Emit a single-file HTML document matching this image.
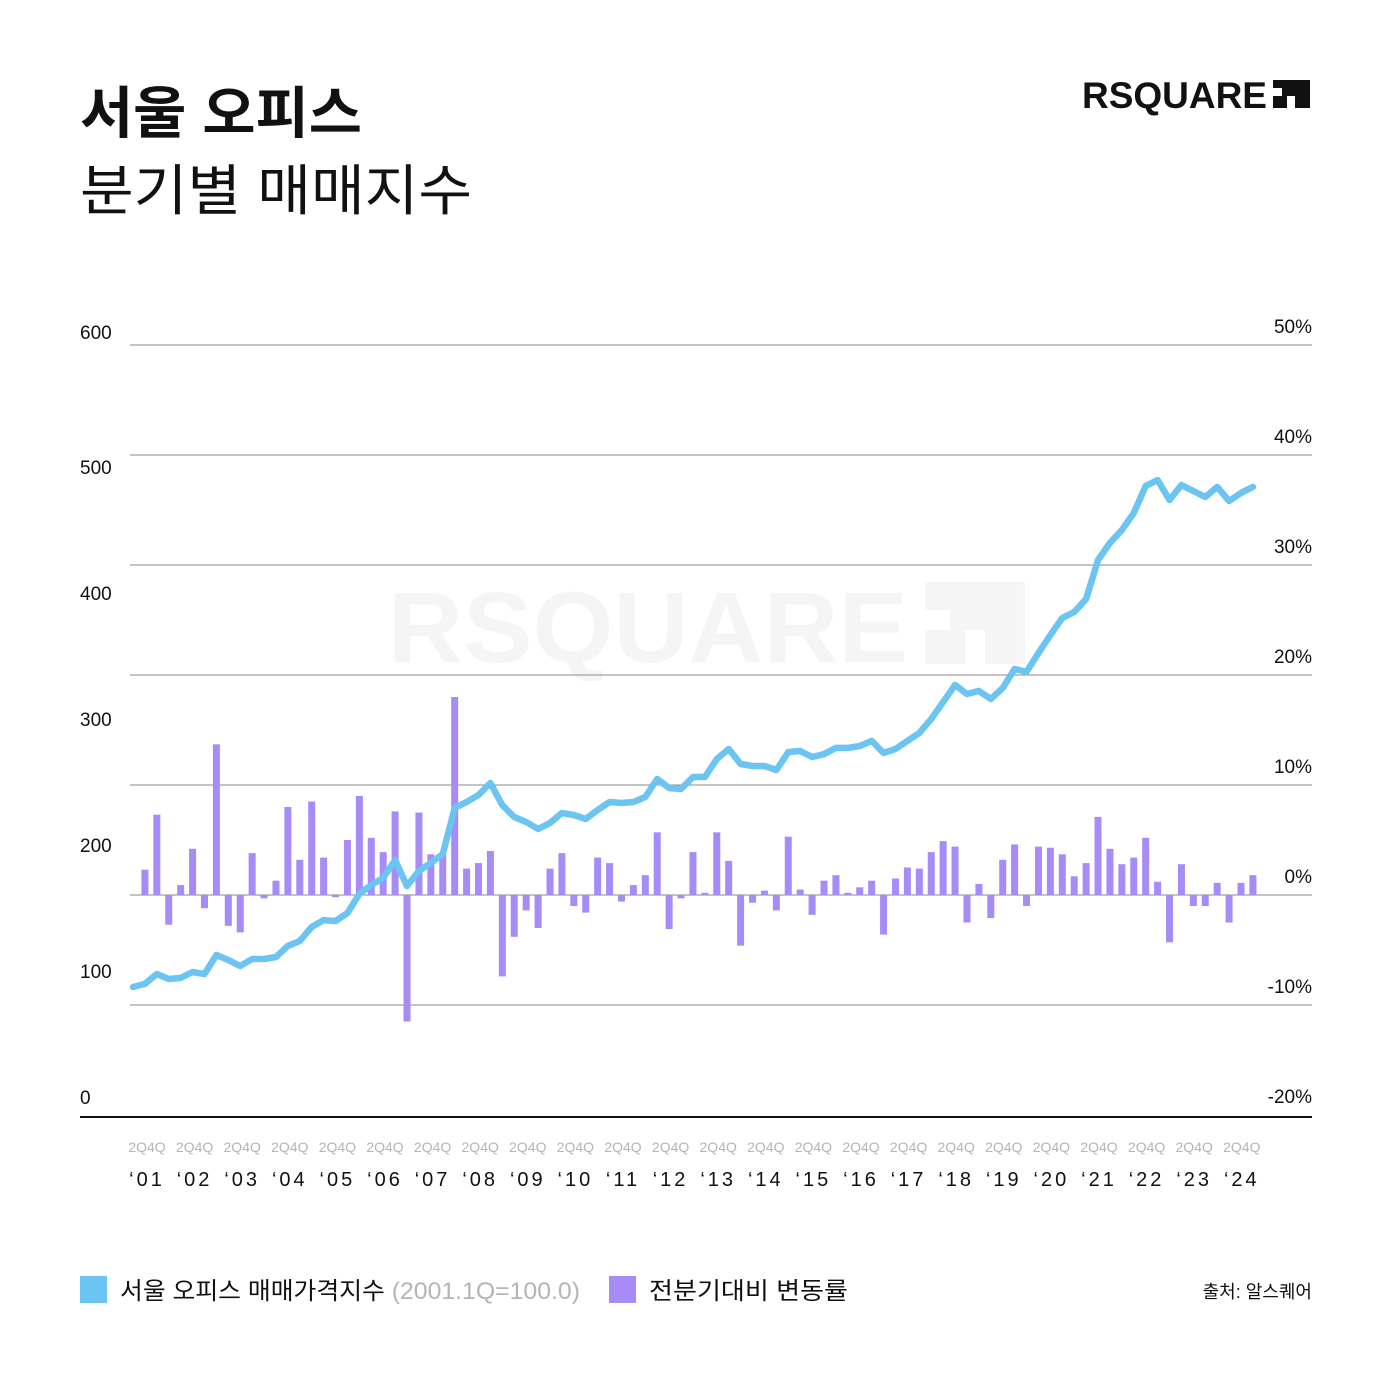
<!DOCTYPE html>
<html><head><meta charset="utf-8">
<style>
html,body{margin:0;padding:0;background:#fff;}
body{width:1392px;height:1383px;overflow:hidden;position:relative;font-family:"Liberation Sans","Noto Sans CJK KR",sans-serif;}
svg text{font-family:"Liberation Sans","Noto Sans CJK KR",sans-serif;}
</style></head>
<body>
<svg id="chart" width="1392" height="1383" viewBox="0 0 1392 1383" xmlns="http://www.w3.org/2000/svg">
  <text x="80" y="133" font-size="56" font-weight="700" fill="#111" textLength="282" lengthAdjust="spacingAndGlyphs">서울 오피스</text>
  <text x="80" y="210" font-size="55" fill="#111" textLength="392" lengthAdjust="spacingAndGlyphs">분기별 매매지수</text>
  <g>
    <text x="1082" y="108" font-size="37" font-weight="700" fill="#111" textLength="185" lengthAdjust="spacingAndGlyphs">RSQUARE</text>
    <path d="M1273 80 H1310 V108 H1295 V96 H1287 V108 H1273 V96 H1282 V88 H1273 Z" fill="#111"/>
  </g>
  <g opacity="0.035">
    <text x="388" y="662" font-size="100" font-weight="700" fill="#000" textLength="520" lengthAdjust="spacingAndGlyphs">RSQUARE</text>
    <path d="M925 582 H1025 V664 H985 V630 H965 V664 H925 V630 H950 V610 H925 Z" fill="#000"/>
  </g>
  <g id="grid"></g>
  <g id="bars"></g>
  <g id="line"></g>
  <g id="axes"></g>
  <g>
    <rect x="80" y="1276" width="27" height="27" fill="#6cc4f2"/>
    <text x="120" y="1299" font-size="24" fill="#111" textLength="460" lengthAdjust="spacingAndGlyphs">서울 오피스 매매가격지수 <tspan fill="#b5b5b5">(2001.1Q=100.0)</tspan></text>
    <rect x="609" y="1276" width="27" height="27" fill="#a78bf6"/>
    <text x="649" y="1299" font-size="24" fill="#111" textLength="199" lengthAdjust="spacingAndGlyphs">전분기대비 변동률</text>
  </g>
  <text x="1312" y="1298" font-size="18" fill="#111" text-anchor="end">출처: 알스퀘어</text>
</svg>
<script>
const indexValues = [100,102.4,110.2,106.3,107.1,111.8,110.2,125.1,121.2,116.5,122,122,123.5,132.2,136.1,147.1,152.5,151.8,158,173,180,185.5,199.6,179.2,191,197.3,204.3,240.4,245.1,250.6,260,242.7,233.3,229.4,223.9,228.6,236.5,234.9,231.8,238.8,245.1,244.3,245.1,249,263.1,256.1,255.3,264.7,264.7,278.8,286.7,274.9,273.3,273.3,270.2,284.3,285.1,280.4,282.7,287.5,287.5,289,293,283.5,286.7,293,299.2,310.2,323.5,336.9,329.8,332.2,325.9,334.5,349.4,347.1,362,376.1,389.4,394.1,404.3,434.9,448.2,458.4,471.8,493,497.6,482,493.7,489,484.3,492.2,481.2,487.5,492.2];
const changeValues = [2.3,7.3,-2.7,0.9,4.2,-1.2,13.7,-2.8,-3.4,3.8,-0.3,1.3,8.0,3.2,8.5,3.4,-0.2,5.0,9.0,5.2,3.9,7.6,-11.5,7.5,3.7,3.7,18.0,2.4,2.9,4.0,-7.4,-3.8,-1.4,-3.0,2.4,3.8,-1.0,-1.6,3.4,2.9,-0.6,0.9,1.8,5.7,-3.1,-0.3,3.9,0.2,5.7,3.1,-4.6,-0.7,0.4,-1.4,5.3,0.5,-1.8,1.3,1.8,0.2,0.7,1.3,-3.6,1.5,2.5,2.4,3.9,4.9,4.4,-2.5,1.0,-2.1,3.2,4.6,-1.0,4.4,4.3,3.7,1.7,2.9,7.1,4.2,2.8,3.4,5.2,1.2,-4.3,2.8,-1.0,-1.0,1.1,-2.5,1.1,1.8];
const leftTicks = [0,100,200,300,400,500,600];
const rightTicks = [-20,-10,0,10,20,30,40,50];
const yearLabels = ["01","02","03","04","05","06","07","08","09","10","11","12","13","14","15","16","17","18","19","20","21","22","23","24"];

const NS = "http://www.w3.org/2000/svg";
const x0 = 133, step = 11.914;
const xQ = i => x0 + i * step;
const yL = v => 1114.5 - v * 1.275;
const yR = p => 895 - p * 11;
function mk(tag, attrs, parent){const e=document.createElementNS(NS,tag);for(const k in attrs)e.setAttribute(k,attrs[k]);parent.appendChild(e);return e;}

const grid = document.getElementById('grid');
rightTicks.forEach(p => {
  if (p === -20) return;
  const l = mk('line',{x1:130,x2:1312,y1:yR(p),y2:yR(p),stroke:'#8a8a8a','stroke-width':1},grid);
  
  
});

const bars = document.getElementById('bars');
changeValues.forEach((p, i) => {
  const x = xQ(i + 1);
  const y1 = yR(Math.max(p,0)), y2 = yR(Math.min(p,0));
  const r = mk('rect',{x:x-3.5,y:y1,width:7,height:Math.max(y2-y1,0.5),fill:'#a78bf6'},bars);
  
  
});

const lineG = document.getElementById('line');
const pts = indexValues.map((v,i)=>xQ(i).toFixed(1)+','+yL(v).toFixed(1)).join(' ');
const pl = mk('polyline',{points:pts,fill:'none',stroke:'#6cc4f2','stroke-width':6.5,'stroke-linejoin':'round','stroke-linecap':'round'},lineG);



const axes = document.getElementById('axes');
const base = mk('line',{x1:80,x2:1312,y1:1117,y2:1117,stroke:'#111','stroke-width':2},axes);


leftTicks.forEach((v,k) => {
  const yy = k === 6 ? 339 : 1104 - k*126;
  const t = mk('text',{x:80,y:yy,'font-size':19,fill:'#111'},axes);
  t.textContent = v;
  
  
});
rightTicks.forEach(p => {
  const t = mk('text',{x:1312,y:yR(p)-12,'font-size':19,fill:'#111','text-anchor':'end'},axes);
  t.textContent = p + '%';
  
  
});
yearLabels.forEach((y,k) => {
  const cx = 147 + k * 47.6;
  const q = mk('text',{x:cx,y:1152,'font-size':14,fill:'#b5b5b5','text-anchor':'middle'},axes);
  q.textContent = '2Q4Q';
  
  
  const t = mk('text',{x:cx,y:1186,'font-size':20,fill:'#111','text-anchor':'middle','letter-spacing':'3'},axes);
  t.textContent = '\u2018' + y;
  
  
});
</script>
</body></html>
